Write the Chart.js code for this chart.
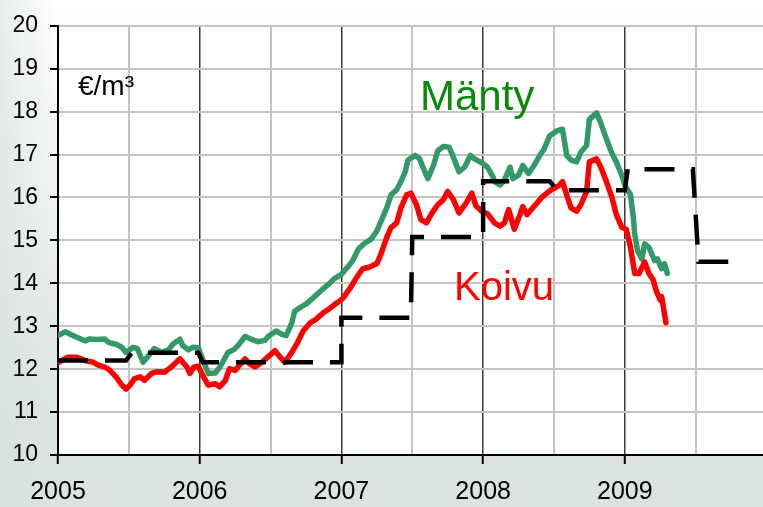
<!DOCTYPE html>
<html>
<head>
<meta charset="utf-8">
<script src="https://cdn.jsdelivr.net/npm/chart.js@4.4.0/dist/chart.umd.min.js"></script>
<style>
    html, body { margin: 0; padding: 0; }
    #wrap {
        width: 763px;
        height: 507px;
        position: relative;
        background:
            linear-gradient(to right, rgba(214,222,218,0.55), rgba(255,255,255,0) 58px),
            linear-gradient(to bottom, #ffffff 0%, #f1f4f2 35%, #e2e8e5 70%, #dbe2df 90%);
    }
</style>
</head>
<body>
<div id="wrap"><canvas id="priceChart"></canvas></div>
<script>
// Mänty (€/m³)
const mantyYears = [
    2005.00, 2005.05, 2005.12, 2005.19, 2005.22, 2005.28, 2005.33, 2005.36, 2005.41, 2005.45, 2005.48, 2005.53,
    2005.56, 2005.60, 2005.64, 2005.68, 2005.73, 2005.78, 2005.81, 2005.86, 2005.88, 2005.92, 2005.95, 2005.99,
    2006.02, 2006.06, 2006.11, 2006.15, 2006.20, 2006.24, 2006.27, 2006.32, 2006.36, 2006.41, 2006.46, 2006.49,
    2006.54, 2006.58, 2006.61, 2006.65, 2006.67, 2006.72, 2006.76, 2006.81, 2006.86, 2006.91, 2006.95,
    2007.00, 2007.05, 2007.08, 2007.12, 2007.16, 2007.21, 2007.25, 2007.28, 2007.32, 2007.35, 2007.39, 2007.42,
    2007.45, 2007.47, 2007.52, 2007.55, 2007.58, 2007.61, 2007.65, 2007.68, 2007.72, 2007.76, 2007.79, 2007.83,
    2007.87, 2007.91, 2007.94, 2007.99,
    2008.03, 2008.07, 2008.08, 2008.12, 2008.15, 2008.19, 2008.21, 2008.25, 2008.28, 2008.32, 2008.36, 2008.40,
    2008.43, 2008.47, 2008.52, 2008.56, 2008.59, 2008.62, 2008.66, 2008.69, 2008.73, 2008.75, 2008.80, 2008.83,
    2008.87, 2008.91, 2008.94, 2008.98,
    2009.00, 2009.04, 2009.06, 2009.07, 2009.09, 2009.12, 2009.14, 2009.17, 2009.21, 2009.23, 2009.26, 2009.28, 2009.30
];
const mantyPrices = [
    12.78, 12.87, 12.76, 12.66, 12.70, 12.69, 12.70, 12.62, 12.58, 12.51, 12.39, 12.51,
    12.48, 12.16, 12.32, 12.48, 12.39, 12.45, 12.58, 12.70, 12.55, 12.45, 12.51, 12.50,
    12.24, 11.90, 11.91, 12.09, 12.39, 12.45, 12.55, 12.76, 12.70, 12.64, 12.67, 12.78,
    12.89, 12.81, 12.78, 13.08, 13.35, 13.46, 13.54, 13.69, 13.84, 13.98, 14.11,
    14.21, 14.40, 14.53, 14.80, 14.92, 15.03, 15.22, 15.45, 15.76, 16.06, 16.18, 16.37,
    16.60, 16.87, 16.98, 16.91, 16.67, 16.44, 16.75, 17.09, 17.19, 17.17, 16.94, 16.60,
    16.71, 16.98, 16.90, 16.81,
    16.71, 16.48, 16.37, 16.29, 16.40, 16.71, 16.44, 16.52, 16.75, 16.56, 16.75, 16.98,
    17.13, 17.44, 17.55, 17.59, 16.98, 16.87, 16.83, 17.06, 17.21, 17.82, 17.97, 17.74,
    17.36, 17.02, 16.83, 16.50,
    16.29, 16.06, 15.53, 15.14, 14.76, 14.57, 14.92, 14.84, 14.53, 14.57, 14.34, 14.46, 14.23
];

// Koivu
const koivuYears = [
    2005.00, 2005.07, 2005.13, 2005.19, 2005.25, 2005.28, 2005.33, 2005.36, 2005.41, 2005.45, 2005.48, 2005.51,
    2005.54, 2005.58, 2005.61, 2005.66, 2005.70, 2005.75, 2005.80, 2005.86, 2005.91, 2005.93, 2005.96, 2005.99,
    2006.02, 2006.06, 2006.11, 2006.14, 2006.18, 2006.21, 2006.25, 2006.28, 2006.32, 2006.35, 2006.39, 2006.44,
    2006.48, 2006.53, 2006.56, 2006.60, 2006.65, 2006.69, 2006.73, 2006.78, 2006.82, 2006.87, 2006.92, 2006.95,
    2007.01, 2007.06, 2007.11, 2007.15, 2007.20, 2007.25, 2007.28, 2007.32, 2007.35, 2007.39, 2007.42, 2007.46,
    2007.49, 2007.53, 2007.56, 2007.60, 2007.64, 2007.68, 2007.72, 2007.75, 2007.79, 2007.83, 2007.88, 2007.92,
    2007.95, 2007.99,
    2008.03, 2008.08, 2008.12, 2008.15, 2008.18, 2008.20, 2008.22, 2008.26, 2008.28, 2008.31, 2008.34, 2008.38,
    2008.41, 2008.45, 2008.48, 2008.52, 2008.54, 2008.56, 2008.59, 2008.62, 2008.66, 2008.69, 2008.73, 2008.75,
    2008.80, 2008.83, 2008.87, 2008.91, 2008.94, 2008.98,
    2009.01, 2009.04, 2009.07, 2009.10, 2009.14, 2009.17, 2009.20, 2009.22, 2009.25, 2009.26, 2009.29
];
const koivuPrices = [
    12.15, 12.28, 12.28, 12.20, 12.16, 12.10, 12.05, 11.99, 11.82, 11.63, 11.54, 11.63,
    11.78, 11.82, 11.74, 11.90, 11.94, 11.93, 12.05, 12.24, 12.05, 11.90, 12.05, 12.07,
    11.86, 11.63, 11.66, 11.59, 11.73, 12.01, 11.97, 12.09, 12.24, 12.13, 12.05, 12.16,
    12.28, 12.43, 12.31, 12.16, 12.39, 12.62, 12.89, 13.08, 13.16, 13.31, 13.42, 13.50,
    13.65, 13.88, 14.15, 14.34, 14.38, 14.46, 14.69, 15.07, 15.30, 15.41, 15.76, 16.06,
    16.10, 15.83, 15.49, 15.41, 15.64, 15.83, 15.95, 16.14, 15.95, 15.64, 15.87, 16.10,
    15.80, 15.68,
    15.62, 15.41, 15.33, 15.41, 15.72, 15.49, 15.26, 15.60, 15.79, 15.60, 15.72, 15.87,
    15.99, 16.10, 16.18, 16.25, 16.29, 16.37, 16.06, 15.76, 15.68, 15.83, 16.14, 16.83,
    16.90, 16.71, 16.37, 15.99, 15.60, 15.30,
    15.26, 14.84, 14.23, 14.23, 14.50, 14.23, 14.08, 13.84, 13.61, 13.69, 13.08
];

// katkoviiva (porrastettu)
const stepYears = [
    2005.00, 2005.48, 2005.52, 2005.99, 2006.02, 2007.00, 2007.00, 2007.49, 2007.50,
    2008.00, 2008.00, 2008.47, 2008.52, 2009.00, 2009.02, 2009.48, 2009.52, 2009.74
];
const stepPrices = [
    12.20, 12.20, 12.38, 12.38, 12.16, 12.16, 13.20, 13.20, 15.08,
    15.08, 16.38, 16.38, 16.17, 16.17, 16.66, 16.66, 14.50, 14.50
];

// x-akselin jaot (puolivuosittain, nimet vain vuosille)
const xTicks = [2005, 2005.5, 2006, 2006.5, 2007, 2007.5, 2008, 2008.5, 2009, 2009.5];

const FONT = '"Liberation Sans", Arial, sans-serif';

function toPoints(xs, ys) {
    return xs.map((x, i) => ({ x: x, y: ys[i] }));
}

function isYear(v) {
    return Math.abs(v - Math.round(v)) < 1e-6;
}

// valkoinen piirtoalue
const plotBackground = {
    id: 'plotBackground',
    beforeDraw(chart) {
        const { ctx, chartArea: a } = chart;
        ctx.save();
        ctx.fillStyle = '#ffffff';
        ctx.fillRect(a.left, a.top, a.right - a.left, a.bottom - a.top);
        ctx.restore();
    }
};

// tekstit kuvaajan sisällä
const seriesLabels = {
    id: 'seriesLabels',
    afterDatasetsDraw(chart) {
        const ctx = chart.ctx;
        ctx.save();
        ctx.textAlign = 'left';
        ctx.textBaseline = 'alphabetic';
        ctx.font = '28px ' + FONT;
        ctx.fillStyle = '#000000';
        ctx.fillText('€/m³', 78, 95);
        ctx.font = '42px ' + FONT;
        ctx.fillStyle = '#0a8a0a';
        ctx.fillText('Mänty', 420, 110);
        ctx.font = '40px ' + FONT;
        ctx.fillStyle = '#ff0000';
        ctx.fillText('Koivu', 454, 300);
        ctx.restore();
    }
};

const ctx = document.getElementById('priceChart').getContext('2d');

new Chart(ctx, {
    type: 'line',
    data: {
        datasets: [{
            label: 'Indeksi',
            data: toPoints(stepYears, stepPrices),
            borderColor: '#000000',
            borderWidth: 4.5,
            borderDash: [30, 17],
            borderCapStyle: 'butt',
            pointRadius: 0,
            tension: 0
        }, {
            label: 'Koivu',
            data: toPoints(koivuYears, koivuPrices),
            borderColor: '#ff0000',
            borderWidth: 5.5,
            borderJoinStyle: 'round',
            borderCapStyle: 'round',
            pointRadius: 0,
            tension: 0
        }, {
            label: 'Mänty',
            data: toPoints(mantyYears, mantyPrices),
            borderColor: '#339966',
            borderWidth: 5.5,
            borderJoinStyle: 'round',
            borderCapStyle: 'round',
            pointRadius: 0,
            tension: 0
        }]
    },
    options: {
        responsive: true,
        maintainAspectRatio: false,
        animation: false,
        layout: {
            padding: { top: 18, right: 0, bottom: 0, left: 0 }
        },
        plugins: {
            legend: { display: false },
            tooltip: { enabled: false }
        },
        scales: {
            x: {
                type: 'linear',
                min: 2005,
                max: 2009.975,
                afterBuildTicks: function(scale) {
                    scale.ticks = xTicks.map(v => ({ value: v }));
                },
                afterFit: function(scale) {
                    scale.height = 52;
                },
                grid: {
                    color: c => (c.tick && isYear(c.tick.value)) ? '#3a3a3a' : '#c4c4c4',
                    lineWidth: c => (c.tick && isYear(c.tick.value)) ? 1.5 : 2,
                    tickLength: 9,
                    tickWidth: 2,
                    tickColor: c => (c.tick && isYear(c.tick.value)) ? '#000000' : 'rgba(0,0,0,0)'
                },
                border: { color: '#000000', width: 2 },
                ticks: {
                    autoSkip: false,
                    maxRotation: 0,
                    padding: 13,
                    color: '#000000',
                    font: { family: FONT, size: 25 },
                    callback: v => isYear(v) ? String(Math.round(v)) : ''
                }
            },
            y: {
                min: 10,
                max: 20,
                afterFit: function(scale) {
                    scale.width = 58;
                },
                grid: {
                    color: c => (c.tick && c.tick.value === 10) ? '#000000' : '#c4c4c4',
                    lineWidth: 2,
                    tickLength: 8,
                    tickWidth: 2,
                    tickColor: '#000000'
                },
                border: { color: '#000000', width: 2 },
                ticks: {
                    stepSize: 1,
                    padding: 12,
                    color: '#000000',
                    font: { family: FONT, size: 23 }
                }
            }
        }
    },
    plugins: [plotBackground, seriesLabels]
});
</script>
</body>
</html>
